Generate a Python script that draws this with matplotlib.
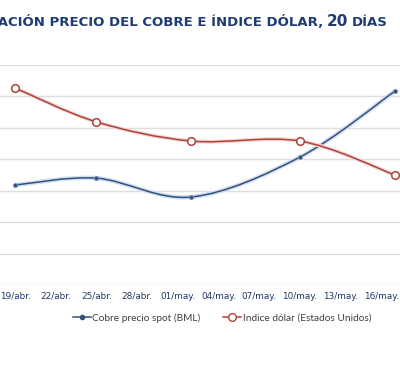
import matplotlib
matplotlib.use("Agg")
import matplotlib.pyplot as plt
import matplotlib.dates as mdates
import matplotlib.patheffects as pe
from matplotlib.path import Path
from matplotlib.patches import PathPatch
from matplotlib.lines import Line2D
import numpy as np
import datetime as dt

# ---- data (y in grid units, labels of the y axis are cropped) ----
dates = ["2018-04-19", "2018-04-25", "2018-05-02", "2018-05-10", "2018-05-17"]
cobre = [3.18, 3.40, 2.80, 4.07, 6.17]
dolar = [6.27, 5.19, 4.58, 4.58, 3.50]
tick_labels = ["19/abr.", "22/abr.", "25/abr.", "28/abr.", "01/may.",
               "04/may.", "07/may.", "10/may.", "13/may.", "16/may."]
series_names = ["Cobre precio spot (BML)", "Indice dólar (Estados Unidos)"]
title_main = "VARIACIÓN PRECIO DEL COBRE E ÍNDICE DÓLAR,"
title_num = "20"
title_end = "DÍAS"

W, H = 400, 371
fig = plt.figure(figsize=(W / 100, H / 100), dpi=100)
fig.patch.set_facecolor("white")

ax = fig.add_axes([0, (H - 285) / H, 1, (285 - 65) / H])
ax.set_facecolor("white")

xd = mdates.date2num([dt.date.fromisoformat(d) for d in dates])
x0 = xd[0]
px_per_day = 13.57
ax.set_xlim(x0 - 15 / px_per_day, x0 + (W - 15) / px_per_day)
ax.set_ylim(0, 7)

for s in ax.spines.values():
    s.set_visible(False)
ax.set_yticks(np.arange(0, 8, 1))
ax.set_yticklabels([])
ax.tick_params(axis="y", length=0)
ax.grid(axis="y", color="#DEDEDE", linewidth=1.0)
ax.set_axisbelow(True)

ticks = [x0 + 3 * i for i in range(len(tick_labels))]
ax.set_xticks(ticks)
ax.set_xticklabels(tick_labels, fontsize=6.4, color="#1F3864", family="DejaVu Sans")
ax.tick_params(axis="x", length=0, pad=5)


def smooth_path(x, y):
    pts = np.column_stack([x, y])
    n = len(pts)
    verts = [pts[0]]
    codes = [Path.MOVETO]
    for i in range(n - 1):
        p0 = pts[i - 1] if i > 0 else pts[i]
        p1 = pts[i]
        p2 = pts[i + 1]
        p3 = pts[i + 2] if i + 2 < n else pts[i + 1]
        c1 = p1 + (p2 - p0) / 6
        c2 = p2 - (p3 - p1) / 6
        verts += [c1, c2, p2]
        codes += [Path.CURVE4] * 3
    return Path(verts, codes)


blue = "#34507F"
red = "#B0403B"

pb = PathPatch(smooth_path(xd, cobre), fill=False, edgecolor=blue, linewidth=1.1,
               path_effects=[pe.Stroke(linewidth=3.2, foreground="#D3DFF0"), pe.Normal()],
               zorder=3)
ax.add_patch(pb)
pr = PathPatch(smooth_path(xd, dolar), fill=False, edgecolor=red, linewidth=1.1,
               path_effects=[pe.Stroke(linewidth=2.8, foreground="#F2D8D6"), pe.Normal()],
               zorder=3)
ax.add_patch(pr)

ax.plot(xd, cobre, linestyle="none", marker="o", markersize=3, color=blue,
        markeredgecolor="#7F95B8", markeredgewidth=0.6, zorder=4, clip_on=False)
ax.plot(xd, dolar, linestyle="none", marker="o", markersize=5.5, markerfacecolor="white",
        markeredgecolor=red, markeredgewidth=1.1, zorder=4, clip_on=False)

handles = [
    Line2D([], [], color=blue, linewidth=1.1, marker="o", markersize=3),
    Line2D([], [], color=red, linewidth=1.1, marker="o", markersize=5.5,
           markerfacecolor="white", markeredgecolor=red, markeredgewidth=1.0),
]
fig.legend(handles, series_names, loc="center", bbox_to_anchor=(0.555, (H - 318) / H),
           ncol=2, frameon=False, handlelength=1.8, handletextpad=0.15,
           columnspacing=2.2, labelcolor="#404040", prop={"family": "Lato", "size": 7.3})

ty = (H - 22) / H
navy = "#1F3B73"
fig.text(323 / W, ty, title_main, ha="right", va="center", fontsize=9.5,
         fontweight="bold", color=navy, family="DejaVu Sans")
fig.text(327 / W, ty, title_num, ha="left", va="center", fontsize=11,
         fontweight="bold", color=navy, family="DejaVu Sans")
fig.text(352 / W, ty, title_end, ha="left", va="center", fontsize=9.5,
         fontweight="bold", color=navy, family="DejaVu Sans")

fig.savefig("out.png", dpi=100, facecolor="white")
